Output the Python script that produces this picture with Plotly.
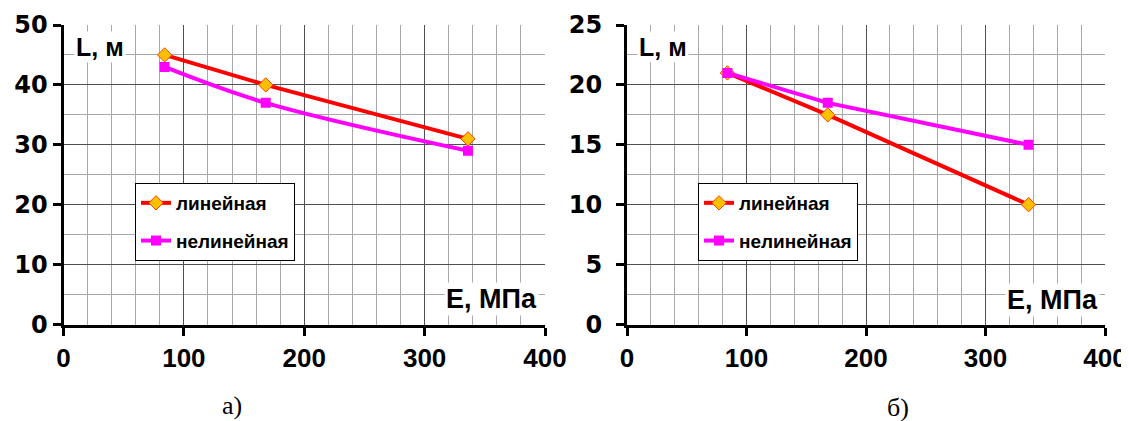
import plotly.graph_objects as go

# ---- data ----
E_vals = [84, 168, 336]
a_linear = [45, 40, 31]
a_nonlinear = [43, 37, 29]
b_linear = [21, 17.5, 10]
b_nonlinear = [21, 18.5, 15]
name_lin = "линейная"
name_nonlin = "нелинейная"
x_label = "E, МПа"
y_label = "L, м"
cap_a = "а)"
cap_b = "б)"

# page has an 8px body margin; size the figure so it fits the 1129x421 window
OFF = 8
W, H = 1129 - OFF, 421 - OFF
RED = "#FF0000"
MAG = "#FF00FF"
ORANGE = "#FFC000"

def px_x(p):
    return (p - OFF) / W

def px_y(p):
    return (H - (p - OFF)) / H

fig = go.Figure()

def add_pair(xa, ya, lin, nonlin, legend, smooth):
    fig.add_trace(go.Scatter(
        x=E_vals, y=lin, name=name_lin, mode="lines+markers",
        line=dict(color=RED, width=4),
        marker=dict(symbol="diamond", size=11, color=ORANGE,
                    line=dict(color="#FF4000", width=1)),
        xaxis=xa, yaxis=ya, legend=legend, legendgroup=legend + "a"))
    fig.add_trace(go.Scatter(
        x=E_vals, y=nonlin, name=name_nonlin, mode="lines+markers",
        line=dict(color=MAG, width=4, shape="spline" if smooth else "linear",
                  smoothing=1.0),
        marker=dict(symbol="square", size=10, color=MAG),
        xaxis=xa, yaxis=ya, legend=legend, legendgroup=legend + "b"))

add_pair("x", "y", a_linear, a_nonlinear, "legend", True)
add_pair("x2", "y2", b_linear, b_nonlinear, "legend2", False)

xtick_font = dict(family="Liberation Sans, Arial", size=26, color="black", weight="bold")
ytick_font = dict(family="DejaVu Sans", size=24, color="black", weight="bold")

def xaxis_cfg(domain, anchor):
    return dict(
        domain=domain, range=[0, 400], dtick=100, tick0=0, anchor=anchor,
        showgrid=True, gridcolor="#505050", gridwidth=1,
        minor=dict(dtick=20, showgrid=True, gridcolor="#a8a8a8", gridwidth=1),
        showline=True, linecolor="black", linewidth=3,
        ticks="outside", ticklen=8, tickwidth=3, tickcolor="black",
        zeroline=False, tickfont=xtick_font, automargin=False,
        ticklabelstandoff=0, fixedrange=True)

def yaxis_cfg(rng, dtick, mdtick, anchor, standoff):
    return dict(
        domain=[px_y(324.5), px_y(25)], range=rng, dtick=dtick, tick0=0,
        showgrid=True, gridcolor="#505050", gridwidth=1,
        minor=dict(dtick=mdtick, showgrid=True, gridcolor="#a8a8a8", gridwidth=1),
        showline=True, linecolor="black", linewidth=3,
        ticks="outside", ticklen=8, tickwidth=3, tickcolor="black",
        zeroline=False, tickfont=ytick_font, automargin=False,
        anchor=anchor, ticklabelstandoff=standoff, fixedrange=True)

legend_font = dict(family="Liberation Sans, Arial", size=19, color="black", weight="bold")

def legend_cfg(xpx):
    return dict(
        x=px_x(xpx), y=px_y(183), xanchor="left", yanchor="top",
        bgcolor="white", bordercolor="black", borderwidth=1,
        font=legend_font, traceorder="grouped", tracegroupgap=10,
        itemwidth=30)

label_font = dict(family="Liberation Sans, Arial", size=25, color="black", weight="bold")
xlab_font = dict(family="Liberation Sans, Arial", size=27, color="black", weight="bold")
cap_font = dict(family="Liberation Serif, Times New Roman", size=26, color="black")

def ann(text, xp, yp, font, bg=None):
    d = dict(text=text, x=px_x(xp), y=px_y(yp), xref="paper", yref="paper",
             xanchor="center", yanchor="middle", showarrow=False, font=font)
    if bg:
        d["bgcolor"] = bg
    return d

annotations = [
    ann(y_label, 100, 47, label_font, "white"),
    ann(x_label, 491, 299, xlab_font, "white"),
    ann(y_label, 663, 47, label_font, "white"),
    ann(x_label, 1052, 300, xlab_font, "white"),
    ann(cap_a, 232, 405, cap_font),
    ann(cap_b, 898, 407, cap_font),
]

fig.update_layout(
    width=W, height=H,
    margin=dict(l=0, r=0, t=0, b=0),
    paper_bgcolor="white", plot_bgcolor="white",
    xaxis=xaxis_cfg([px_x(63.5), px_x(545)], "y"),
    yaxis=yaxis_cfg([0, 50], 10, 5, "x", 0),
    xaxis2=xaxis_cfg([px_x(627), px_x(1105)], "y2"),
    yaxis2=yaxis_cfg([0, 25], 5, 2.5, "x2", 9),
    legend=legend_cfg(135),
    legend2=legend_cfg(698),
    annotations=annotations,
    showlegend=True,
)

fig.write_html("out.html")
